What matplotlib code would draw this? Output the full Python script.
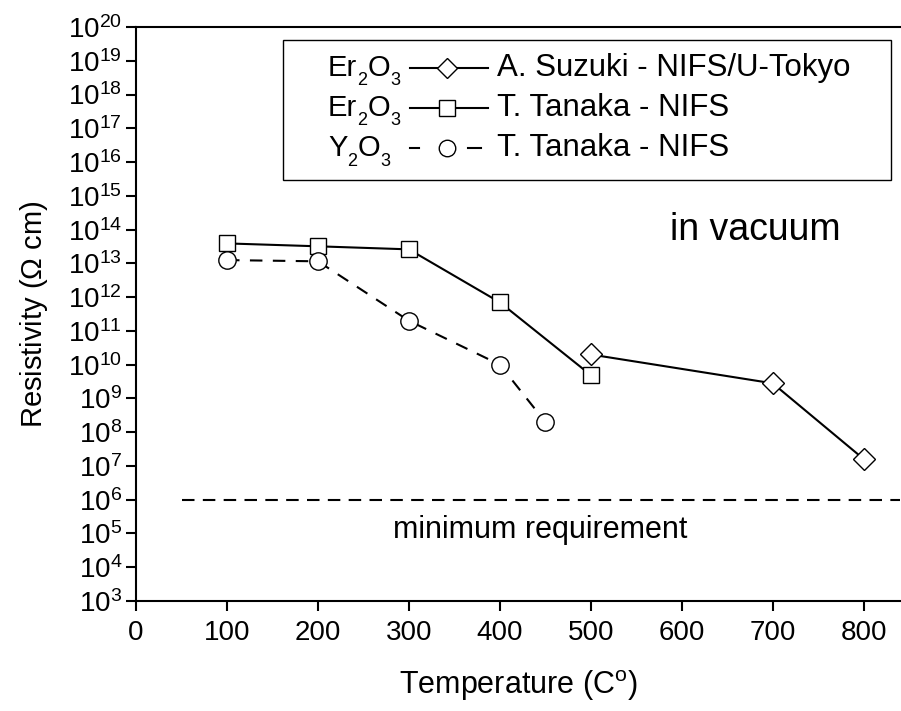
import matplotlib
matplotlib.use('Agg')
import matplotlib.pyplot as plt
from matplotlib.lines import Line2D
from matplotlib.patches import Rectangle
from matplotlib.transforms import offset_copy

plt.rcParams['font.family'] = ['Liberation Sans', 'DejaVu Sans']
plt.rcParams['mathtext.fontset'] = 'custom'
plt.rcParams['mathtext.rm'] = 'Liberation Sans'
plt.rcParams['mathtext.it'] = 'Liberation Sans:italic'

# data (resistivity in Ohm cm)
suzuki_T = [500, 700, 800]
suzuki_R = [2.0e10, 2.8e9, 1.6e7]

tanaka_er_T = [100, 200, 300, 400, 500]
tanaka_er_R = [3.9e13, 3.2e13, 2.6e13, 7.0e11, 4.9e9]

tanaka_y_T = [100, 200, 300, 400, 450]
tanaka_y_R = [1.25e13, 1.15e13, 2.0e11, 1.0e10, 2.0e8]

req_T = [50, 840]
req_R = [1e6, 1e6]

# formula pieces: (text, is_subscript)
formulas = [[('Er', 0), ('2', 1), ('O', 0), ('3', 1)],
            [('Er', 0), ('2', 1), ('O', 0), ('3', 1)],
            [('Y', 0), ('2', 1), ('O', 0), ('3', 1)]]
authors = ['A. Suzuki - NIFS/U-Tokyo', 'T. Tanaka - NIFS', 'T. Tanaka - NIFS']

fig = plt.figure(figsize=(9.01, 7.11), dpi=100)
ax = fig.add_axes([0.151, 0.1547, 0.849, 0.8073])

mk = dict(markerfacecolor='white', markeredgecolor='black', markeredgewidth=1.0)
l1, = ax.plot(suzuki_T, suzuki_R, color='black', lw=1.5, marker='D', markersize=11, zorder=4, **mk)
l2, = ax.plot(tanaka_er_T, tanaka_er_R, color='black', lw=1.5, marker='s', markersize=11.5, zorder=3, **mk)
l3, = ax.plot(tanaka_y_T, tanaka_y_R, color='black', lw=1.5, ls=(0, (6, 5)), marker='o', markersize=12.5, zorder=3, **mk)
ax.plot(req_T, req_R, color='black', lw=1.5, ls=(0, (6, 4)))

ax.set_yscale('log')
ax.set_ylim(1e3, 1e20)
ax.set_xlim(0, 841)
ax.set_yticks([10.0 ** k for k in range(3, 21)])
ax.minorticks_off()
ax.set_xticks(range(0, 900, 100))

for s in ['left', 'bottom', 'top']:
    ax.spines[s].set_linewidth(1.5)
ax.spines['right'].set_visible(False)
ax.tick_params(axis='both', which='major', direction='out', length=7, width=1.5, labelsize=20)
ax.tick_params(axis='x', pad=7)
ax.tick_params(axis='y', pad=3)

ax.set_xlabel('Temperature (C$^\\mathrm{o}$)', fontsize=22, labelpad=16)
ax.set_ylabel('Resistivity ($\\Omega$ cm)', fontsize=21, labelpad=13)

ax.text(587, 1e14, 'in vacuum', fontsize=27, ha='left', va='center')
ax.text(444, 1.3e5, 'minimum requirement', fontsize=22, ha='center', va='center')

# legend drawn by hand: formula, line sample, author
ax.add_patch(Rectangle((0.192, 0.733), 0.795, 0.244, transform=ax.transAxes,
                       facecolor='white', edgecolor='black', lw=1.0, zorder=5))
renderer = fig.canvas.get_renderer()
rows_y = [0.929, 0.859, 0.789]
for y, f, a, h in zip(rows_y, formulas, authors, [l1, l2, l3]):
    dx = 0.0
    for piece, sub in f:
        tr = offset_copy(ax.transAxes, fig=fig, x=dx, y=-13 if sub else 0, units='dots')
        t = ax.text(0.251, y, piece, transform=tr, fontsize=13 if sub else 21,
                    va='center', ha='left', zorder=6)
        dx += t.get_window_extent(renderer).width
    if h is l3:
        segs = [[0.358, 0.370], [0.434, 0.451]]
    else:
        segs = [[0.358, 0.460]]
    for sx in segs:
        ax.add_line(Line2D(sx, [y, y], transform=ax.transAxes, color='black', lw=1.5, zorder=6))
    ax.add_line(Line2D([0.406], [y], transform=ax.transAxes, marker=h.get_marker(),
                       markersize=h.get_markersize() * 0.95, ls='none', zorder=7, **mk))
    ax.text(0.472, y, a, transform=ax.transAxes, fontsize=22.5, va='center', ha='left', zorder=6)

fig.savefig('out.png', dpi=100)
